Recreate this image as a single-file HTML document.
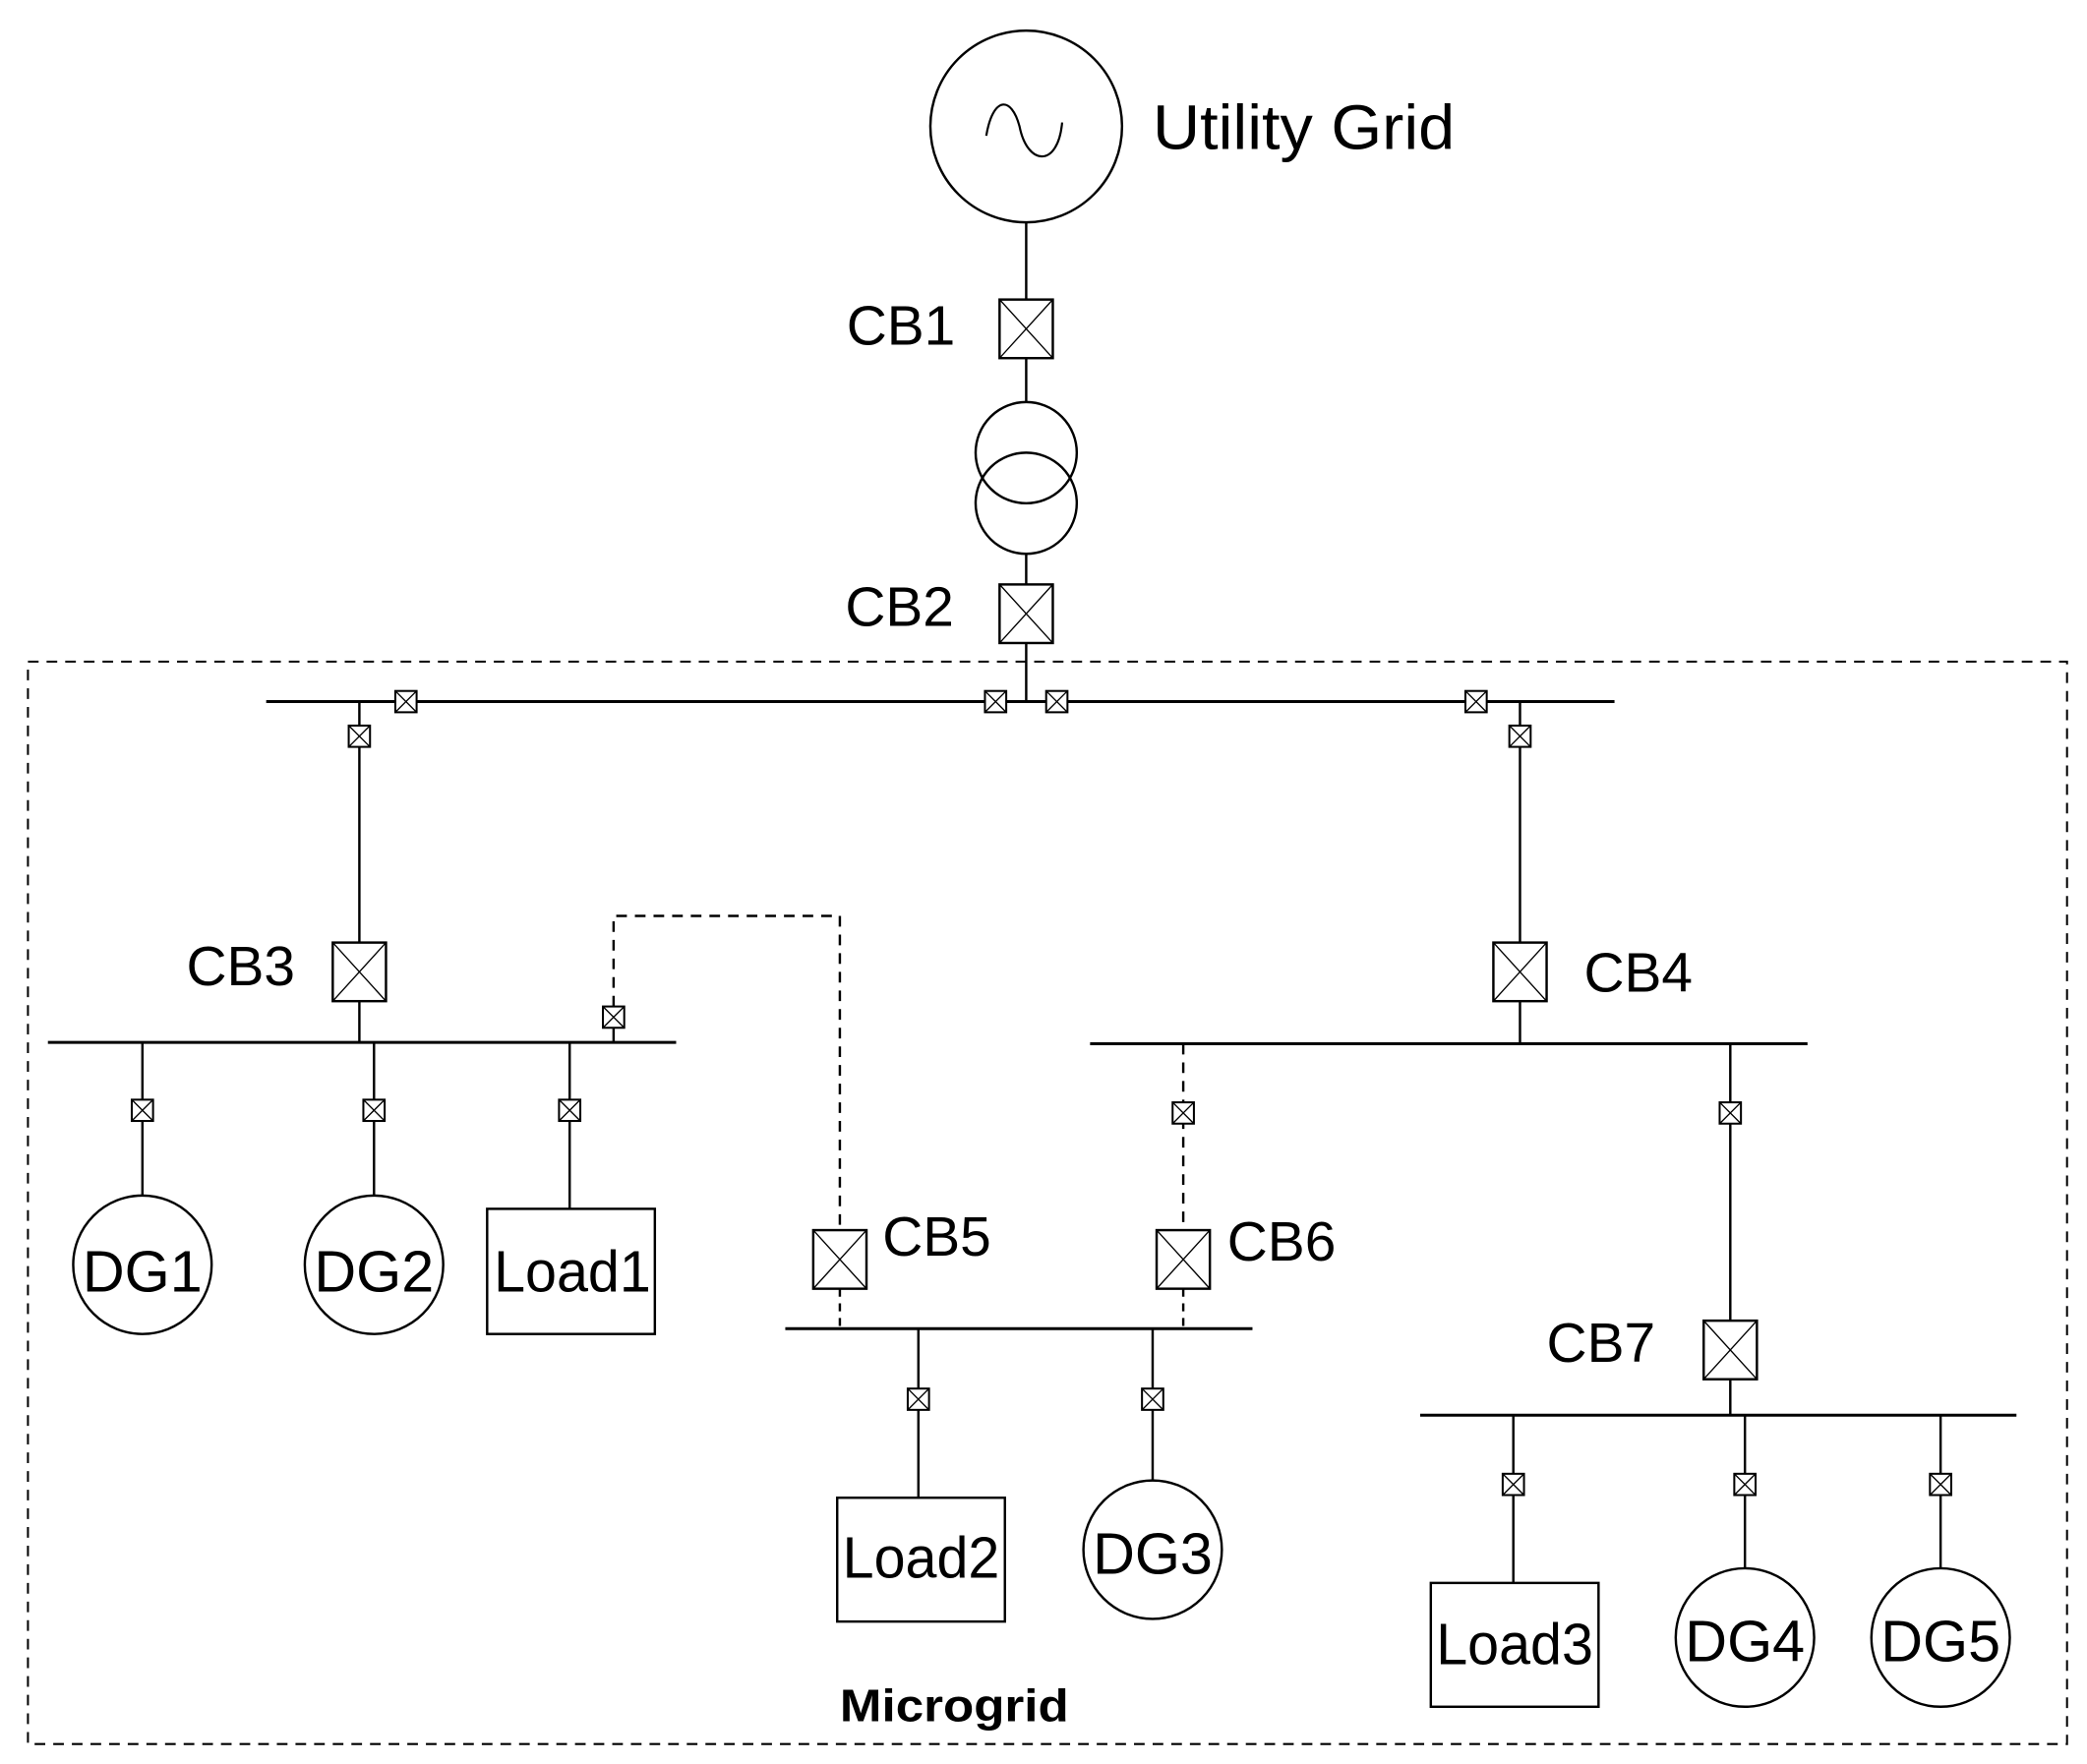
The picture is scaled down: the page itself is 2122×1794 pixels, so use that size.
<!DOCTYPE html>
<html><head><meta charset="utf-8"><style>html,body{margin:0;padding:0;background:#fff}svg{display:block}</style></head>
<body>
<svg width="2122" height="1794" viewBox="0 0 1568 1325" preserveAspectRatio="none" xmlns="http://www.w3.org/2000/svg" font-family="Liberation Sans, sans-serif">
<defs>
<g id="sb"><rect x="-8" y="-8" width="16" height="16" fill="#fff" stroke="#000" stroke-width="1.5"/><path d="M-8,-8L8,8M8,-8L-8,8" stroke="#000" stroke-width="1"/></g>
<g id="bb"><rect x="-20" y="-22" width="40" height="44" fill="#fff" stroke="#000" stroke-width="1.8"/><path d="M-20,-22L20,22M20,-22L-20,22" stroke="#000" stroke-width="1"/></g>
</defs>
<g fill="none" stroke="#000" stroke-width="1.8">
<circle cx="771" cy="95" r="72"/>
<path d="M741,102 C746,72 760,72 766,95 C772,125 795,126 798,92" stroke-width="1.6"/>
<line x1="771" y1="167" x2="771" y2="226"/>
<line x1="771" y1="268" x2="771" y2="302"/>
<circle cx="771" cy="340" r="38"/>
<circle cx="771" cy="378" r="38"/>
<line x1="771" y1="416" x2="771" y2="440"/>
<line x1="771" y1="482" x2="771" y2="527"/>
<rect x="21" y="497" width="1532" height="813" stroke-dasharray="8,6" stroke-width="1.5"/>
<line x1="200" y1="527" x2="1213" y2="527" stroke-width="2.2"/>
<line x1="270" y1="527" x2="270" y2="708"/>
<line x1="270" y1="752" x2="270" y2="783"/>
<line x1="36" y1="783" x2="508" y2="783" stroke-width="2.2"/>
<line x1="107" y1="783" x2="107" y2="898"/>
<line x1="281" y1="783" x2="281" y2="898"/>
<line x1="428" y1="783" x2="428" y2="908"/>
<circle cx="107" cy="950" r="52"/>
<circle cx="281" cy="950" r="52"/>
<rect x="366" y="908" width="126" height="94"/>
<line x1="461" y1="783" x2="461" y2="764"/>
<path d="M461,756 L461,688 L631,688 L631,924" stroke-dasharray="8,6"/>
<line x1="631" y1="968" x2="631" y2="998" stroke-dasharray="6,5"/>
<line x1="1142" y1="527" x2="1142" y2="708"/>
<line x1="1142" y1="752" x2="1142" y2="784"/>
<line x1="819" y1="784" x2="1358" y2="784" stroke-width="2.2"/>
<line x1="889" y1="784" x2="889" y2="924" stroke-dasharray="8,6"/>
<line x1="889" y1="968" x2="889" y2="998" stroke-dasharray="6,5"/>
<line x1="1300" y1="784" x2="1300" y2="992"/>
<line x1="1300" y1="1036" x2="1300" y2="1063"/>
<line x1="590" y1="998" x2="941" y2="998" stroke-width="2.2"/>
<line x1="690" y1="998" x2="690" y2="1125"/>
<rect x="629" y="1125" width="126" height="93"/>
<line x1="866" y1="998" x2="866" y2="1112"/>
<circle cx="866" cy="1164" r="52"/>
<line x1="1067" y1="1063" x2="1515" y2="1063" stroke-width="2.2"/>
<line x1="1137" y1="1063" x2="1137" y2="1189"/>
<rect x="1075" y="1189" width="126" height="93"/>
<line x1="1311" y1="1063" x2="1311" y2="1178"/>
<circle cx="1311" cy="1230" r="52"/>
<line x1="1458" y1="1063" x2="1458" y2="1178"/>
<circle cx="1458" cy="1230" r="52"/>
</g>
<use href="#bb" x="771" y="247"/>
<use href="#bb" x="771" y="461"/>
<use href="#bb" x="270" y="730"/>
<use href="#bb" x="1142" y="730"/>
<use href="#bb" x="631" y="946"/>
<use href="#bb" x="889" y="946"/>
<use href="#bb" x="1300" y="1014"/>
<use href="#sb" x="305" y="527"/>
<use href="#sb" x="748" y="527"/>
<use href="#sb" x="794" y="527"/>
<use href="#sb" x="1109" y="527"/>
<use href="#sb" x="270" y="553"/>
<use href="#sb" x="1142" y="553"/>
<use href="#sb" x="461" y="764"/>
<use href="#sb" x="107" y="834"/>
<use href="#sb" x="281" y="834"/>
<use href="#sb" x="428" y="834"/>
<use href="#sb" x="889" y="836"/>
<use href="#sb" x="1300" y="836"/>
<use href="#sb" x="690" y="1051"/>
<use href="#sb" x="866" y="1051"/>
<use href="#sb" x="1137" y="1115"/>
<use href="#sb" x="1311" y="1115"/>
<use href="#sb" x="1458" y="1115"/>
<g fill="#000" font-size="42">
<text x="866" y="112" font-size="47" textLength="227" lengthAdjust="spacingAndGlyphs">Utility Grid</text>
<text x="636" y="259">CB1</text>
<text x="635" y="470">CB2</text>
<text x="140" y="740">CB3</text>
<text x="1190" y="745">CB4</text>
<text x="663" y="943">CB5</text>
<text x="922" y="947">CB6</text>
<text x="1162" y="1023">CB7</text>
<g text-anchor="middle" font-size="44">
<text x="107" y="970" textLength="90" lengthAdjust="spacingAndGlyphs">DG1</text>
<text x="281" y="970" textLength="90" lengthAdjust="spacingAndGlyphs">DG2</text>
<text x="430" y="970" textLength="118" lengthAdjust="spacingAndGlyphs">Load1</text>
<text x="692" y="1185" textLength="118" lengthAdjust="spacingAndGlyphs">Load2</text>
<text x="866" y="1182" textLength="90" lengthAdjust="spacingAndGlyphs">DG3</text>
<text x="1138" y="1250" textLength="118" lengthAdjust="spacingAndGlyphs">Load3</text>
<text x="1311" y="1248" textLength="90" lengthAdjust="spacingAndGlyphs">DG4</text>
<text x="1458" y="1248" textLength="90" lengthAdjust="spacingAndGlyphs">DG5</text>
</g>
<text x="717" y="1293" font-size="34" font-weight="bold" text-anchor="middle" textLength="172" lengthAdjust="spacingAndGlyphs">Microgrid</text>
</g>
</svg>
</body></html>
